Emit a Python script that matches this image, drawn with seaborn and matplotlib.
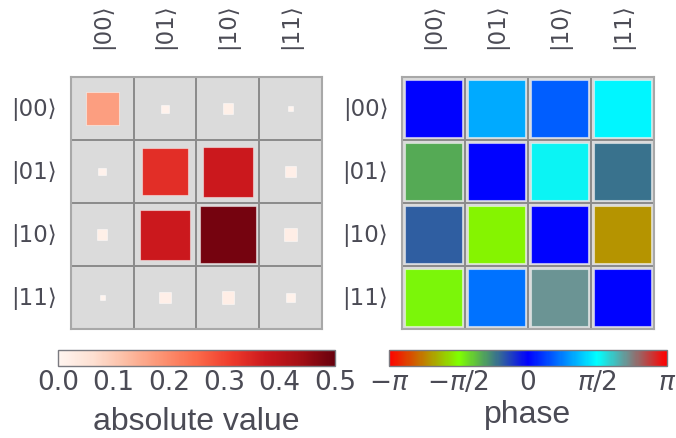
import matplotlib
matplotlib.use("Agg")

import matplotlib.pyplot as plt
import numpy as np
import pandas as pd
import seaborn as sns
from matplotlib import cm
from matplotlib.colors import LinearSegmentedColormap, ListedColormap, Normalize
from matplotlib.patches import Rectangle

# ---------------------------------------------------------------------------
# Data: two-qubit density matrix, modulus and phase (phase in units of pi)
# ---------------------------------------------------------------------------

BASIS = ["|00⟩", "|01⟩", "|10⟩", "|11⟩"]

ABS_VALUES = [
    [0.169, 0.009, 0.016, 0.004],
    [0.009, 0.335, 0.374, 0.019],
    [0.016, 0.374, 0.485, 0.023],
    [0.004, 0.019, 0.023, 0.011],
]

PHASES_PI = [
    [0.00, 0.33, 0.18, 0.48],
    [-0.33, 0.00, 0.52, -0.22],
    [-0.18, -0.52, 0.00, -0.71],
    [-0.48, 0.22, 0.71, 0.00],
]

ABS_TICKS = [0.0, 0.1, 0.2, 0.3, 0.4, 0.5]
PHASE_TICKS_PI = [-1.0, -0.5, 0.0, 0.5, 1.0]
PHASE_TICK_LABELS = [r"$-\pi$", r"$-\pi/2$", "0", r"$\pi/2$", r"$\pi$"]

# ---------------------------------------------------------------------------
# Style
# ---------------------------------------------------------------------------

TEXT = "#4b4b55"
CELL = "#dbdbdb"
GRID = "#8c8c8c"
BORDER = "#a8a8a8"

sns.set_theme(style="white")
plt.rcParams["font.family"] = ["Liberation Sans", "DejaVu Sans"]
plt.rcParams["text.color"] = TEXT
plt.rcParams["axes.labelcolor"] = TEXT
plt.rcParams["xtick.color"] = TEXT
plt.rcParams["ytick.color"] = TEXT

PHASE_CMAP = LinearSegmentedColormap(
    "phase",
    {
        "red": ((0.00, 1.0, 1.0), (0.25, 0.5, 0.5), (0.50, 0.0, 0.0), (0.75, 0.0, 0.0), (1.00, 1.0, 1.0)),
        "green": ((0.00, 0.0, 0.0), (0.25, 1.0, 1.0), (0.50, 0.0, 0.0), (0.75, 1.0, 1.0), (1.00, 0.0, 0.0)),
        "blue": ((0.00, 0.0, 0.0), (0.25, 0.0, 0.0), (0.50, 1.0, 1.0), (0.75, 1.0, 1.0), (1.00, 0.0, 0.0)),
    },
)
ABS_CMAP = plt.get_cmap("Reds")
TICK_FONT = ["Liberation Sans Narrow", "DejaVu Sans"]


def _panel(ax, colors, sides):
    """Grey grid of cells with one coloured square per matrix element."""
    n = len(BASIS)
    bg = pd.DataFrame(np.zeros((n, n)), index=BASIS, columns=BASIS)
    sns.heatmap(bg, ax=ax, cmap=ListedColormap([CELL]), cbar=False,
                linewidths=1.2, linecolor=GRID)
    for i in range(n):
        for j in range(n):
            s = sides[i][j]
            ax.add_patch(Rectangle((j + 0.5 - s / 2, i + 0.5 - s / 2), s, s,
                                   facecolor=colors[i][j],
                                   edgecolor=(1, 1, 1, 0.45), linewidth=0.8,
                                   zorder=3))
    ax.xaxis.tick_top()
    ax.tick_params(axis="x", length=0, pad=21, labelrotation=90)
    ax.tick_params(axis="y", length=0, pad=10, labelrotation=0)
    for lbl in ax.get_xticklabels() + ax.get_yticklabels():
        lbl.set_fontfamily("DejaVu Sans")
        lbl.set_fontsize(16.5)
    ax.set_xlabel("")
    ax.set_ylabel("")
    for spine in ax.spines.values():
        spine.set_visible(True)
        spine.set_edgecolor(BORDER)
        spine.set_linewidth(1.5)


fig = plt.figure(figsize=(6.76, 4.39), dpi=100)
ax_abs = fig.add_axes([0.105, 0.248, 0.371, 0.574])
ax_ph = fig.add_axes([0.5947, 0.248, 0.3728, 0.574])

absv = np.array(ABS_VALUES)
phase = np.array(PHASES_PI) * np.pi
abs_norm = Normalize(0, 0.5)
ph_norm = Normalize(-np.pi, np.pi)

abs_colors = [[ABS_CMAP(abs_norm(v)) for v in row] for row in absv]
abs_sides = 0.9 * np.sqrt(absv / absv.max())
_panel(ax_abs, abs_colors, abs_sides)

ph_colors = [[PHASE_CMAP(ph_norm(v)) for v in row] for row in phase]
ph_sides = np.full(phase.shape, 0.9)
_panel(ax_ph, ph_colors, ph_sides)

# colourbars
cax_abs = fig.add_axes([0.0858, 0.164, 0.4098, 0.0364])
cb_abs = fig.colorbar(cm.ScalarMappable(abs_norm, ABS_CMAP), cax=cax_abs, orientation="horizontal")
cb_abs.set_ticks(ABS_TICKS)
cb_abs.set_ticklabels([f"{t:.1f}" for t in ABS_TICKS])
cb_abs.set_label("absolute value", fontsize=23, labelpad=8)

cax_ph = fig.add_axes([0.5754, 0.164, 0.411, 0.0364])
cb_ph = fig.colorbar(cm.ScalarMappable(ph_norm, PHASE_CMAP), cax=cax_ph, orientation="horizontal")
cb_ph.set_ticks([t * np.pi for t in PHASE_TICKS_PI])
cb_ph.set_ticklabels(PHASE_TICK_LABELS)
cb_ph.set_label("phase", fontsize=23, labelpad=3)

for cb in (cb_abs, cb_ph):
    cb.outline.set_edgecolor("#7a7a80")
    cb.outline.set_linewidth(1.0)
    cb.ax.tick_params(length=0, pad=2)
    for lbl in cb.ax.get_xticklabels():
        lbl.set_fontfamily(TICK_FONT)
        lbl.set_fontsize(19)

fig.savefig("out.png", dpi=100)
